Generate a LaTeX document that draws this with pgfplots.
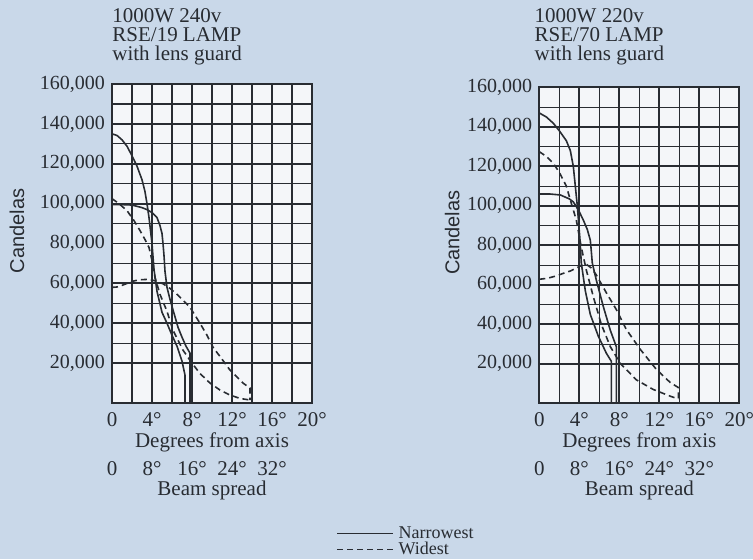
\documentclass[border=0pt]{standalone}
\usepackage{fontspec}
\setmainfont{Liberation Serif}
\setsansfont{Liberation Sans}
\usepackage{pgfplots}
\pgfplotsset{compat=1.18}

\definecolor{bg}{RGB}{201,216,233}
\definecolor{ink}{RGB}{40,44,50}
\definecolor{paper}{RGB}{244,246,249}

\tikzset{titlenode/.style={anchor=south west, align=left, inner sep=0pt, text=ink,
    font=\fontsize{10.5}{9.5}\selectfont}}

\pgfplotsset{
  lampchart/.style={
    anchor=south west, scale only axis, width=100pt, clip=false,
    xmin=0, xmax=20, ymin=0, ymax=160000,
    xtick={0,4,...,20}, xticklabels={0,4°,8°,12°,16°,20°},
    ytick={20000,40000,...,160000},
    minor x tick num=1, minor y tick num=1,
    grid=both,
    major grid style={ink, line width=0.9pt},
    minor grid style={ink, line width=0.55pt},
    axis line style={ink, line width=0.9pt},
    major tick length=0pt, minor tick length=0pt,
    scaled y ticks=false,
    /pgf/number format/fixed,
    /pgf/number format/1000 sep={,},
    /pgf/number format/assume math mode=true,
    yticklabel style={font=\fontsize{10}{10}\selectfont, text=ink},
    xticklabel style={font=\fontsize{10.5}{10.5}\selectfont, text=ink, yshift=-1pt},
    xlabel={Degrees from axis},
    xlabel style={font=\fontsize{10.5}{10.5}\selectfont, text=ink,
      at={(axis description cs:0.5,0)}, anchor=center, yshift=-19.5pt},
    ylabel={Candelas},
    ylabel style={font=\sffamily\fontsize{10}{10}\selectfont, text=ink, anchor=center},
    axis background/.style={fill=paper},
    every axis plot/.append style={ink, line width=0.8pt},
  },
  beamaxis/.style={
    anchor=south west, scale only axis, width=100pt,
    xmin=0, xmax=40, ymin=0, ymax=1,
    hide y axis, axis x line*=bottom, x axis line style={draw=none},
    xtick={0,8,...,32}, xticklabels={0,8°,16°,24°,32°},
    major tick length=0pt,
    xticklabel style={font=\fontsize{10.5}{10.5}\selectfont, text=ink, yshift=-25.5pt},
    xlabel={Beam spread},
    xlabel style={font=\fontsize{10.5}{10.5}\selectfont, text=ink,
      at={(axis description cs:0.5,0)}, anchor=center, yshift=-43.5pt},
  },
}

\begin{document}
\begin{tikzpicture}
\fill[bg] (0,0) rectangle (376.5pt,-279.5pt);
\useasboundingbox (0,0) rectangle (376.5pt,-279.5pt);

% left chart: RSE/19
\begin{axis}[lampchart, at={(56pt,-201.5pt)}, height=159.5pt,
  ylabel style={at={(axis description cs:-0.475,0.54)}},
  legend style={at={(1.12,-0.379)}, anchor=north west, draw=none, fill=none,
    inner sep=0pt, font=\fontsize{9}{9}\selectfont, text=ink, row sep=-1.5pt,
    nodes={inner sep=1pt},
    /tikz/every odd column/.append style={column sep=1.5pt}},
  legend cell align=left,
  legend image code/.code={\draw[#1, line width=0.6pt] (0pt,0pt) -- (28pt,0pt);},
]
\addplot[solid] coordinates {(0,135000) (0.5,134200) (1,132000) (1.5,128800) (2,124000) (2.5,118800) (3,112000) (3.3,106000) (3.5,100000) (3.7,93000) (4,80000) (4.2,67000) (4.5,56000) (5,45500) (5.5,40000) (6,34000) (6.5,28500) (7,21000) (7.3,14000) (7.3,0)};
\addlegendentry{Narrowest}
\addplot[dash pattern=on 3pt off 2pt] coordinates {(0,102500) (0.7,100000) (1.5,96500) (2.2,91500) (2.8,86500) (3.3,82000) (3.7,78000) (4,71500) (4.3,63000) (4.8,54500) (5.5,46000) (6.1,36500) (7.1,26500) (8,20000) (8.8,14800) (9.8,10000) (10.8,6500) (11.8,4000) (12.8,2300) (13.8,1500)};
\addlegendentry{Widest}
\addplot[solid, forget plot] coordinates {(0,99500) (1,99500) (2,99300) (3,98000) (3.5,97000) (4,95500) (4.5,93000) (4.8,89000) (5,85000) (5.1,80000) (5.2,74000) (5.3,66000) (5.5,58000) (5.8,52000) (6.2,45000) (6.6,38000) (7,33000) (7.4,28500) (7.8,25000) (7.8,0)};
\addplot[dash pattern=on 3pt off 2pt, forget plot] coordinates {(0,58000) (0.5,58200) (1,59000) (1.5,60000) (2,61000) (2.7,61800) (3.5,62000) (4,61700) (4.5,61000) (5.1,59800) (5.8,57500) (6.5,54500) (7.2,51000) (7.8,48000) (8.3,44000) (8.8,40000) (9.5,34000) (10.1,28000) (11,22000) (11.8,16500) (12.5,13000) (13.1,10000) (13.8,7500) (13.8,1500)};
\node[titlenode, yshift=9.5pt] at (rel axis cs:0,1) {1000W 240v\\RSE/19 LAMP\\with lens guard};
\end{axis}
\begin{axis}[beamaxis, at={(56pt,-201.5pt)}, height=159.5pt]
\end{axis}

% right chart: RSE/70
\begin{axis}[lampchart, at={(269.65pt,-201.65pt)}, height=158pt,
  ylabel style={at={(axis description cs:-0.435,0.54)}}]
\addplot[solid] coordinates {(0,147000) (0.7,145000) (1.4,141800) (2,138000) (2.7,133000) (3.1,128000) (3.4,120000) (3.6,110000) (3.8,100000) (4.07,82600) (4.2,71000) (4.6,57000) (5.1,45000) (5.9,34000) (6.7,25400) (7.2,21300) (7.2,0)};
\addplot[solid] coordinates {(0,106000) (1,106000) (2.1,105500) (3,103500) (3.4,102000) (3.9,98000) (4.4,92800) (4.8,88000) (5.1,82600) (5.2,77000) (5.3,71000) (5.7,62400) (6.4,49000) (7.1,37000) (7.7,28700) (7.7,0)};
\addplot[dash pattern=on 3pt off 2pt] coordinates {(0,127400) (0.7,125000) (1.4,121500) (2,117000) (2.4,113000) (2.7,110000) (3.1,103000) (3.7,92800) (4.2,79000) (4.7,67500) (5.4,54000) (6.2,40000) (7.1,28700) (8.1,20200) (9.7,11900) (11.4,7000) (13.1,3600) (13.9,2200)};
\addplot[dash pattern=on 3pt off 2pt] coordinates {(0,62800) (0.8,63300) (1.7,64500) (2.5,66000) (3.1,67000) (4.1,69500) (4.7,70400) (5.2,68500) (5.7,65000) (6.2,60500) (6.7,56000) (7.7,47500) (8.7,37400) (10.1,27300) (11.7,17200) (13.1,10500) (13.9,8000) (13.9,2200)};
\node[titlenode, xshift=-2.5pt, yshift=11pt] at (rel axis cs:0,1) {1000W 220v\\RSE/70 LAMP\\with lens guard};
\end{axis}
\begin{axis}[beamaxis, at={(269.65pt,-201.65pt)}, height=158pt]
\end{axis}
\end{tikzpicture}
\end{document}
